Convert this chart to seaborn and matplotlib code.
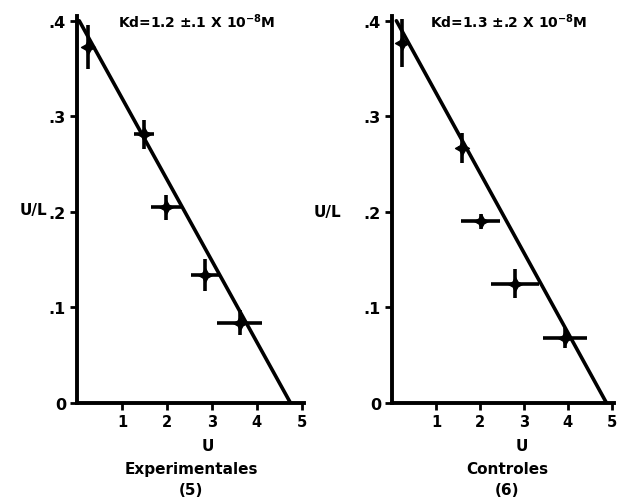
import matplotlib
matplotlib.use("Agg")
import matplotlib.pyplot as plt
import seaborn as sns
import pandas as pd

# Experimentales (5)
exp_u = [0.24, 1.49, 1.98, 2.84, 3.62]
exp_ul = [0.373, 0.281, 0.205, 0.134, 0.084]
exp_u_err = [0.05, 0.22, 0.33, 0.31, 0.50]
exp_ul_err = [0.023, 0.015, 0.013, 0.017, 0.013]
exp_fit_u = [0.05, 4.75]
exp_fit_ul = [0.40, 0.0]

# Controles (6)
ctl_u = [0.23, 1.59, 2.02, 2.80, 3.93]
ctl_ul = [0.377, 0.267, 0.190, 0.125, 0.068]
ctl_u_err = [0.05, 0.10, 0.44, 0.54, 0.50]
ctl_ul_err = [0.025, 0.016, 0.008, 0.015, 0.010]
ctl_fit_u = [0.10, 4.88]
ctl_fit_ul = [0.40, 0.0]

x_ticks = [1, 2, 3, 4, 5]
x_tick_labels = ["1", "2", "3", "4", "5"]
y_ticks = [0, 0.1, 0.2, 0.3, 0.4]
y_tick_labels = ["0", ".1", ".2", ".3", ".4"]

titles = ["Kd=1.2 ±.1 X 10$^{-8}$M", "Kd=1.3 ±.2 X 10$^{-8}$M"]
group_names = ["Experimentales", "Controles"]
group_nums = ["(5)", "(6)"]

sns.set_style("white")
plt.rcParams["font.family"] = ["DejaVu Sans"]
plt.rcParams["font.weight"] = "bold"
plt.rcParams["mathtext.default"] = "bf"
plt.rcParams["text.color"] = "black"
plt.rcParams["xtick.color"] = "black"
plt.rcParams["ytick.color"] = "black"

W, H = 620, 502
fig = plt.figure(figsize=(6.2, 5.02), dpi=100)

def px(x, y):
    return x / W, 1 - y / H

panels = [
    dict(left=77, width=227, u=exp_u, ul=exp_ul, ue=exp_u_err, ule=exp_ul_err,
         fu=exp_fit_u, ful=exp_fit_ul, title=titles[0], title_x=118,
         ulx=33, uly=210, ux=208, gx=191, name=group_names[0], num=group_nums[0]),
    dict(left=392, width=222, u=ctl_u, ul=ctl_ul, ue=ctl_u_err, ule=ctl_ul_err,
         fu=ctl_fit_u, ful=ctl_fit_ul, title=titles[1], title_x=430,
         ulx=327, uly=213, ux=522, gx=507, name=group_names[1], num=group_nums[1]),
]

for p in panels:
    l, b = px(p["left"], 404)
    ax = fig.add_axes([l, b, p["width"] / W, 387 / H])
    ax.patch.set_alpha(0)
    df = pd.DataFrame({"U": p["u"], "UL": p["ul"]})
    fit = pd.DataFrame({"U": p["fu"], "UL": p["ful"]})
    sns.lineplot(data=fit, x="U", y="UL", ax=ax, color="black", lw=2.6)
    ax.errorbar(p["u"], p["ul"], xerr=p["ue"], yerr=p["ule"], fmt="none",
                ecolor="black", elinewidth=2.6, capsize=0)
    sns.scatterplot(data=df, x="U", y="UL", ax=ax, color="black",
                    marker=(4, 1, 0), s=100, edgecolor="black", linewidth=1)
    ax.set_xlim(0, 5.05)
    ax.set_ylim(0, 0.405)
    ax.set_xticks(x_ticks)
    ax.set_xticklabels(x_tick_labels, fontsize=10.5, fontweight="bold")
    ax.set_yticks(y_ticks)
    ax.set_yticklabels(y_tick_labels, fontsize=11.5, fontweight="bold")
    ax.tick_params(axis="both", direction="out", length=5, width=2, color="black",
                   labelcolor="black", left=True, bottom=True, pad=3)
    for s in ["top", "right"]:
        ax.spines[s].set_visible(False)
    for s in ["left", "bottom"]:
        ax.spines[s].set_color("black")
        ax.spines[s].set_linewidth(2.8)
    ax.set_xlabel("")
    ax.set_ylabel("")
    fig.text(*px(p["title_x"], 22), p["title"], ha="left", va="center",
             fontsize=10, fontweight="bold", color="black")
    fig.text(*px(p["ulx"], p["uly"]), "U/L", ha="center", va="center",
             fontsize=11, fontweight="bold", color="black")
    fig.text(*px(p["ux"], 447), "U", ha="center", va="center",
             fontsize=11, fontweight="bold", color="black")
    fig.text(*px(p["gx"], 470), p["name"], ha="center", va="center",
             fontsize=11, fontweight="bold", color="black")
    fig.text(*px(p["gx"], 491), p["num"], ha="center", va="center",
             fontsize=11, fontweight="bold", color="black")

fig.savefig("out.png", dpi=100, facecolor="white")
